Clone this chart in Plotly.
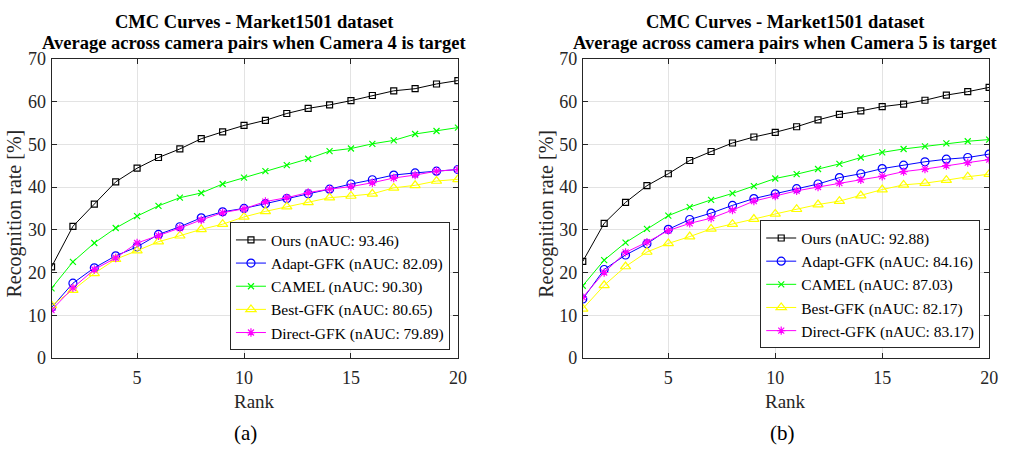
import plotly.graph_objects as go

ranks = list(range(1, 21))

# Panel (a): Camera 4 is target
a_ours = [21.3, 30.8, 36.0, 41.2, 44.4, 46.9, 48.9, 51.3, 52.9, 54.4, 55.6, 57.2, 58.4, 59.2, 60.2, 61.4, 62.5, 63.0, 64.1, 64.9]
a_adapt = [11.8, 17.5, 21.1, 23.9, 26.0, 28.9, 30.7, 32.8, 34.2, 35.0, 36.1, 37.3, 38.4, 39.5, 40.7, 41.7, 42.8, 43.3, 43.7, 44.1]
a_camel = [16.3, 22.5, 26.9, 30.4, 33.2, 35.6, 37.5, 38.6, 40.7, 42.2, 43.7, 45.1, 46.6, 48.4, 49.0, 50.1, 50.9, 52.4, 53.1, 53.9]
a_best = [12.3, 15.9, 19.8, 23.1, 25.1, 27.2, 28.6, 30.1, 31.3, 33.0, 34.3, 35.4, 36.4, 37.5, 37.9, 38.4, 39.8, 40.4, 41.4, 41.8]
a_direct = [11.2, 16.4, 20.7, 23.4, 26.9, 28.6, 30.4, 32.3, 34.0, 34.9, 36.6, 37.5, 38.7, 39.5, 40.1, 41.0, 42.1, 42.8, 43.7, 44.1]
a_names = ["Ours (nAUC: 93.46)", "Adapt-GFK (nAUC: 82.09)", "CAMEL (nAUC: 90.30)",
           "Best-GFK (nAUC: 80.65)", "Direct-GFK (nAUC: 79.89)"]

# Panel (b): Camera 5 is target
b_ours = [22.6, 31.5, 36.4, 40.3, 43.1, 46.2, 48.3, 50.3, 51.7, 52.8, 54.1, 55.7, 57.0, 57.8, 58.8, 59.4, 60.3, 61.5, 62.3, 63.3]
b_adapt = [13.8, 20.7, 24.1, 26.7, 30.1, 32.4, 33.9, 35.7, 37.3, 38.4, 39.6, 40.7, 42.2, 43.1, 44.3, 45.1, 45.9, 46.5, 46.9, 47.7]
b_camel = [16.9, 22.9, 27.0, 30.2, 33.3, 35.3, 37.0, 38.5, 40.2, 42.0, 43.0, 44.2, 45.4, 46.9, 48.1, 48.9, 49.5, 50.2, 50.7, 51.1]
b_best = [11.5, 17.0, 21.4, 24.8, 26.8, 28.4, 30.2, 31.3, 32.5, 33.7, 34.8, 35.9, 36.7, 38.0, 39.4, 40.5, 40.9, 41.6, 42.4, 43.0]
b_direct = [14.2, 20.0, 24.7, 27.1, 29.8, 31.5, 32.7, 34.6, 36.7, 37.9, 39.1, 40.0, 40.9, 41.7, 42.5, 43.6, 44.2, 45.0, 45.7, 46.4]
b_names = ["Ours (nAUC: 92.88)", "Adapt-GFK (nAUC: 84.16)", "CAMEL (nAUC: 87.03)",
           "Best-GFK (nAUC: 82.17)", "Direct-GFK (nAUC: 83.17)"]

x_ticks = [5, 10, 15, 20]
y_ticks = [0, 10, 20, 30, 40, 50, 60, 70]

colors = ["#000000", "#0000FF", "#00FF00", "#FFFF00", "#FF00FF"]
symbols = ["square-open", "circle-open", "x-thin-open", "triangle-up-open", "asterisk-open"]
msizes = [6, 8, 6, 9, 7]

FONT = "Liberation Serif"
W, H = 1013, 455

fig = go.Figure()

panels = [
    (a_names, [a_ours, a_adapt, a_camel, a_best, a_direct], "x", "y", "legend"),
    (b_names, [b_ours, b_adapt, b_camel, b_best, b_direct], "x2", "y2", "legend2"),
]
for names, series, xa, ya, leg in panels:
    for i, (nm, vals) in enumerate(zip(names, series)):
        fig.add_trace(go.Scatter(
            x=ranks, y=vals, name=nm, mode="lines+markers",
            xaxis=xa, yaxis=ya, legend=leg,
            line=dict(color=colors[i], width=1),
            marker=dict(symbol=symbols[i], size=msizes[i], color=colors[i],
                        line=dict(color=colors[i], width=1.2)),
        ))

def px_x(p):
    return p / W

def px_y(p):
    return 1 - p / H

axis_common = dict(
    showline=True, linecolor="#262626", linewidth=1, mirror="ticks",
    ticks="inside", ticklen=5, tickcolor="#262626",
    showgrid=True, gridcolor="#E3E3E3", gridwidth=1, zeroline=False,
    tickfont=dict(family=FONT, size=18, color="#262626"),
)
xaxis_common = dict(range=[1, 20], tickvals=x_ticks, ticklabelstandoff=3, **axis_common)
yaxis_common = dict(range=[0, 70], tickvals=y_ticks, ticklabelstandoff=1, **axis_common)

legend_common = dict(
    xanchor="right", yanchor="bottom",
    bgcolor="white", bordercolor="#262626", borderwidth=1,
    font=dict(family=FONT, size=15.5, color="#000000"),
    tracegroupgap=0, itemwidth=30,
)

fig.update_layout(
    width=W, height=H,
    margin=dict(l=0, r=0, t=0, b=0),
    paper_bgcolor="white", plot_bgcolor="white",
    font=dict(family=FONT, color="#000000"),
    xaxis=dict(domain=[px_x(52), px_x(462)], anchor="y", **xaxis_common),
    yaxis=dict(domain=[px_y(364), px_y(51)], anchor="x", **yaxis_common),
    xaxis2=dict(domain=[px_x(588), px_x(998)], anchor="y2", **xaxis_common),
    yaxis2=dict(domain=[px_y(364), px_y(51)], anchor="x2", **yaxis_common),
    legend=dict(x=px_x(454), y=px_y(356), **legend_common),
    legend2=dict(x=px_x(989), y=px_y(354), **legend_common),
    showlegend=True,
)

title_line1 = "CMC Curves - Market1501 dataset"
title_line2 = ["Average across camera pairs when Camera 4 is target",
               "Average across camera pairs when Camera 5 is target"]
for line2, cx in zip(title_line2, (257, 793)):
    for txt, cy in ((title_line1, 13), (line2, 35)):
        fig.add_annotation(text="<b>" + txt + "</b>", x=px_x(cx), y=px_y(cy), xref="paper", yref="paper",
                           xanchor="center", yanchor="middle", showarrow=False,
                           font=dict(family=FONT, size=18.5, color="#000000"))

for cx in (257, 793):
    fig.add_annotation(text="Rank", x=px_x(cx), y=px_y(409), xref="paper", yref="paper",
                       xanchor="center", yanchor="middle", showarrow=False,
                       font=dict(family=FONT, size=19, color="#262626"))

for cx in (15, 552):
    fig.add_annotation(text="Recognition rate [%]", x=px_x(cx), y=px_y(213), xref="paper", yref="paper",
                       xanchor="center", yanchor="middle", showarrow=False, textangle=-90,
                       font=dict(family=FONT, size=20, color="#262626"))

for txt, cx in (("(a)", 248), ("(b)", 790)):
    fig.add_annotation(text=txt, x=px_x(cx), y=px_y(442), xref="paper", yref="paper",
                       xanchor="center", yanchor="middle", showarrow=False,
                       font=dict(family=FONT, size=21, color="#000000"))

fig.write_html("out.html")
